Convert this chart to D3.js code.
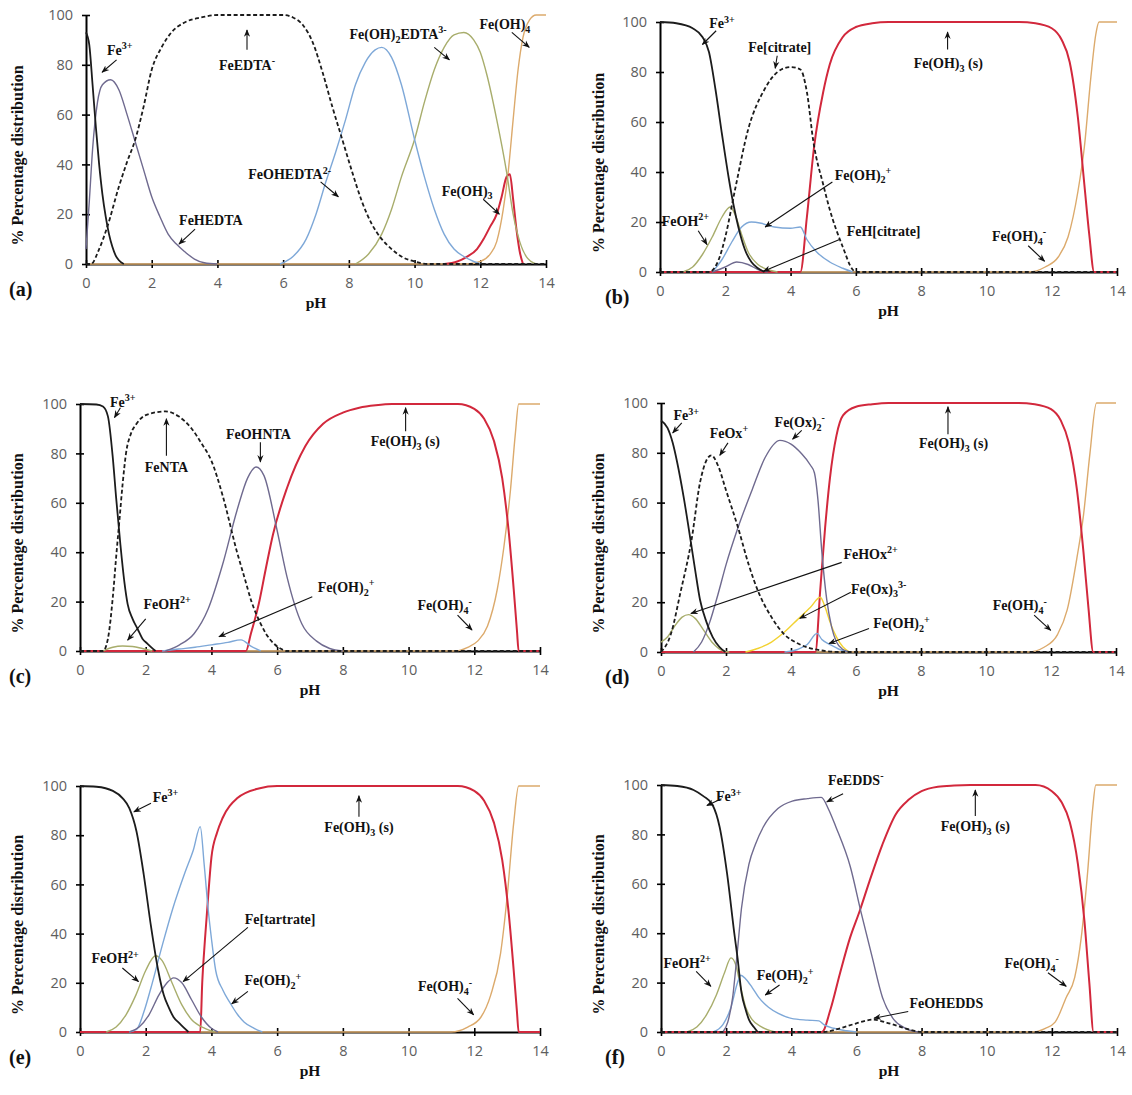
<!DOCTYPE html>
<html>
<head>
<meta charset="utf-8">
<script src="https://cdn.jsdelivr.net/npm/d3@7"></script>
<style>
  body { margin: 0; background: #fff; }
</style>
</head>
<body>
<svg id="chart" width="1132" height="1095"></svg>
<script>
// ---- shared axis values ----
const xTicks = [0, 2, 4, 6, 8, 10, 12, 14];
const yTicks = [0, 20, 40, 60, 80, 100];

// ---- (a) EDTA ----  [pH, %]
const aFe3      = [[0,93],[0.1,88],[0.2,72],[0.3,55],[0.4,40],[0.5,28],[0.6,19],[0.7,12],[0.8,7],[0.9,3.5],[1.0,1.5],[1.15,0]];
const aFeHEDTA  = [[0,6],[0.1,25],[0.2,46],[0.35,65],[0.5,72],[0.75,74],[1.0,70],[1.25,60],[1.5,49],[1.75,38],[2.0,27],[2.25,19],[2.5,12],[2.75,8],[3.0,5],[3.3,2],[3.6,0.5],[4,0]];
const aFeEDTA   = [[0,0],[0.15,0],[0.4,6],[0.65,15],[1.0,31],[1.25,41],[1.5,50],[1.75,63],[2.0,78],[2.3,87],[2.6,93],[3.0,97],[3.5,99],[4,100],[6,100],[6.3,99],[6.6,96],[6.9,89],[7.2,77],[7.5,63],[7.8,50],[8.1,37],[8.4,25],[8.7,16],[9.0,10],[9.3,6],[9.6,3],[10,1],[10.4,0],[14,0]];
const aFeOHEDTA = [[5.9,0],[6.3,3],[6.7,10],[7.0,20],[7.3,33],[7.6,45],[7.9,58],[8.2,72],[8.5,81],[8.8,86],[9.0,87],[9.3,83],[9.6,72],[10.0,50],[10.3,35],[10.6,22],[10.9,12],[11.2,6],[11.5,3],[11.8,1],[12,0]];
const aFeOH2EDTA = [[8.2,0],[8.6,4],[9.0,12],[9.3,22],[9.6,35],[10.0,50],[10.3,65],[10.6,78],[10.9,87],[11.2,92],[11.5,93],[11.8,90],[12.0,85],[12.2,76],[12.5,58],[12.8,37],[13.0,20],[13.2,9],[13.4,3],[13.7,0]];
const aFeOH3    = [[10.9,0],[11.3,1],[11.6,3],[11.9,6],[12.1,10],[12.3,15],[12.5,20],[12.65,27],[12.8,35],[12.9,36],[13.0,26],[13.1,14],[13.2,5],[13.3,0]];
const aFeOH4    = [[0,0],[11.6,0],[12,1],[12.3,4],[12.5,9],[12.7,22],[12.85,37],[13.0,58],[13.15,78],[13.3,91],[13.5,98],[13.7,100],[14,100]];

// ---- (b) citrate ----
const bFe3     = [[0,100],[0.5,99.5],[1,97.5],[1.3,94],[1.5,88],[1.7,73],[1.9,55],[2.1,38],[2.25,27],[2.4,18],[2.6,9],[2.8,4],[3,1.5],[3.2,0]];
const bFeOH    = [[0.7,0],[1.0,2],[1.3,7],[1.6,14],[1.9,22],[2.15,26],[2.3,23],[2.5,15],[2.7,8],[3.0,3],[3.3,1],[3.6,0]];
const bFeCit   = [[0,0],[1.5,0],[1.8,5],[2.0,14],[2.3,33],[2.7,57],[3.2,73],[3.6,80],[4.0,82],[4.3,81],[4.5,72],[4.7,52],[5.0,35],[5.2,25],[5.6,10],[5.9,1],[6.0,0],[14,0]];
const bFeOH2   = [[1.6,0],[1.9,5],[2.2,12],[2.5,18],[2.8,20],[3.1,19.5],[3.5,18],[4.0,17.5],[4.3,18],[4.5,13],[4.8,8],[5.2,4],[5.6,1.5],[5.9,0]];
const bFeHCit  = [[1.6,0],[2.0,2],[2.35,4],[2.7,3],[3.0,1],[3.3,0]];
const bFeOH3s  = [[0,0],[4.3,0],[4.5,22],[4.72,50],[5.0,72],[5.2,83],[5.6,94],[6.0,98],[6.5,99.5],[7,100],[11,100],[11.5,99.5],[12,97.5],[12.3,93],[12.55,84],[12.8,62],[13.0,35],[13.15,15],[13.3,0],[14,0]];
const bFeOH4   = [[0,0],[11.3,0],[11.8,2],[12.2,6],[12.5,14],[12.8,32],[13.0,50],[13.2,78],[13.35,95],[13.45,100],[14,100]];

// ---- (c) NTA ----
const cFe3     = [[0,100],[0.5,99.8],[0.7,99],[0.85,95],[1.0,78],[1.1,62],[1.23,43],[1.35,28],[1.45,19],[1.6,13],[1.75,9],[1.9,5],[2.05,3],[2.3,0]];
const cFeNTA   = [[0,0],[0.7,0],[0.85,5],[1.0,22],[1.1,38],[1.2,53],[1.3,68],[1.4,80],[1.55,88],[1.72,92],[2.0,95.5],[2.6,97],[3.0,95],[3.4,90],[3.7,84],[4.0,77],[4.34,63],[4.78,40],[5.0,30],[5.22,20],[5.5,11],[5.66,7],[5.9,3],[6.1,1],[6.3,0],[14,0]];
const cFeOH    = [[0.7,0],[1.0,1.5],[1.3,2],[1.6,1.8],[1.9,1],[2.2,0]];
const cFeOHNTA = [[2.6,0],[3.03,2.5],[3.47,7],[3.9,17],[4.34,35],[4.78,57],[5.1,70],[5.36,74.5],[5.6,71],[5.98,50],[6.3,30],[6.75,11],[7.2,4],[7.6,1],[8,0]];
const cFeOH2   = [[2.5,0],[3.0,0.8],[3.5,1.5],[4.0,2.5],[4.5,3.5],[4.9,4.5],[5.2,2],[5.5,0]];
const cFeOH3s  = [[0,0],[5.05,0],[5.2,7],[5.44,19],[5.65,33],[5.87,47],[6.3,66],[6.86,83],[7.4,92],[8.0,96.5],[8.5,98.5],[9,99.5],[9.5,100],[11.5,100],[12,98],[12.3,94],[12.6,85],[12.85,70],[13.05,48],[13.2,25],[13.3,8],[13.35,0],[14,0]];
const cFeOH4   = [[0,0],[11.4,0],[11.8,1.5],[12.1,4],[12.4,10],[12.7,25],[12.9,42],[13.1,65],[13.25,88],[13.35,100],[14,100]];

// ---- (d) oxalate ----
const dFe3     = [[0,93],[0.2,90],[0.36,84],[0.5,76],[0.7,62],[0.92,44],[1.05,33],[1.2,21],[1.4,12],[1.59,6],[1.8,2],[1.98,0]];
const dFeOx    = [[0,0],[0.3,7],[0.6,24],[0.94,45],[1.2,68],[1.4,77],[1.55,79],[1.75,75],[2.0,65],[2.37,50],[2.7,35],[3.0,24],[3.4,14],[3.8,7],[4.2,3.5],[4.6,1.5],[5,0.5],[5.5,0],[14,0]];
const dFeHOx   = [[0,4],[0.2,6],[0.4,10],[0.65,14],[0.85,15],[1.05,13.5],[1.3,9],[1.6,3.5],[1.9,0.5],[2.1,0]];
const dFeOx2   = [[1.0,0],[1.25,4],[1.5,12],[1.75,23],[2.0,35],[2.37,50],[2.8,65],[3.2,78],[3.66,85],[4.0,83.5],[4.3,80],[4.6,75],[4.72,72],[4.83,61],[4.95,40],[5.1,21],[5.25,10],[5.4,4],[5.6,1],[5.8,0]];
const dFeOx3   = [[2.6,0],[3.0,1.5],[3.4,4],[3.8,8],[4.2,13],[4.6,18],[4.9,22],[5.05,18],[5.2,12],[5.4,6],[5.6,2],[5.8,0]];
const dFeOH2   = [[3.8,0],[4.2,1],[4.5,3],[4.8,7.5],[4.95,5],[5.2,3],[5.5,1],[5.8,0]];
const dFeOH3s  = [[0,0],[4.75,0],[4.9,25],[5.05,50],[5.2,70],[5.4,87],[5.6,95],[6.0,98.5],[6.5,99.5],[7,100],[11,100],[11.5,99.5],[12,97.5],[12.3,93],[12.55,84],[12.8,65],[13.0,40],[13.15,18],[13.3,0],[14,0]];
const dFeOH4   = [[0,0],[11.3,0],[11.8,2],[12.2,7],[12.5,17],[12.8,38],[13.0,55],[13.2,80],[13.4,100],[14,100]];

// ---- (e) tartrate ----
const eFe3     = [[0,100],[0.5,99.7],[1.0,98],[1.3,95],[1.5,91],[1.72,81.5],[1.94,64],[2.16,43],[2.38,25],[2.55,15],[2.7,10],[2.85,6],[3.03,3.5],[3.3,0]];
const eFeOH    = [[0.8,0],[1.1,2],[1.4,7],[1.7,15],[2.0,25],[2.3,31],[2.5,29],[2.8,20],[3.1,11],[3.4,5],[3.8,1.5],[4.1,0]];
const eFeOH2   = [[1.5,0],[1.72,1],[1.94,8],[2.16,18],[2.5,35],[2.82,50],[3.2,65],[3.45,74],[3.66,83.5],[3.78,68],[3.9,50],[4.0,38],[4.13,25],[4.35,17],[4.56,12],[4.8,7],[5.0,4],[5.3,1.5],[5.55,0]];
const eFeTar   = [[1.5,0],[1.8,2],[2.1,7],[2.4,15],[2.65,20],[2.85,22],[3.1,20],[3.4,13],[3.7,6],[4.0,1.5],[4.2,0]];
const eFeOH3s  = [[0,0],[3.66,0],[3.72,20],[3.8,37],[3.9,55],[4.0,71],[4.17,81],[4.34,87],[4.78,95],[5.44,99],[6,100],[11.5,100],[12,98],[12.3,94],[12.6,85],[12.85,70],[13.05,48],[13.2,25],[13.3,8],[13.35,0],[14,0]];
const eFeOH4   = [[0,0],[11.3,0],[11.8,2],[12.2,6],[12.5,15],[12.8,32],[13.0,55],[13.2,85],[13.35,100],[14,100]];

// ---- (f) EDDS ----
const fFe3      = [[0,100],[0.5,99.6],[1.0,98],[1.3,95.5],[1.58,92],[1.8,83],[2.03,64],[2.25,40],[2.35,30],[2.47,16],[2.6,9],[2.7,5],[2.85,2],[2.97,0]];
const fFeOH     = [[0.8,0],[1.1,2],[1.4,7],[1.7,15],[1.95,24],[2.15,30],[2.3,27],[2.45,18],[2.6,10],[2.8,5],[3.1,2],[3.5,0]];
const fFeOH2    = [[1.6,0],[1.9,3],[2.15,10],[2.35,20],[2.45,23],[2.6,21.5],[2.8,18],[3.0,14],[3.3,10],[3.6,7.5],[4.0,5.5],[4.5,4.8],[4.85,4.5],[5.0,3],[5.3,1.5],[5.7,0.5],[6,0]];
const fFeEDDS   = [[1.9,0],[2.05,4],[2.2,14],[2.34,32],[2.47,50],[2.7,68],[2.9,76],[3.14,83],[3.59,90.5],[4.03,93.5],[4.5,94.5],[4.92,95],[5.15,90],[5.37,83],[5.81,67],[6.15,48],[6.48,30.5],[6.8,14],[7.15,5],[7.5,1.5],[7.9,0]];
const fFeOHEDDS = [[0,0],[5.0,0],[5.5,1.5],[6.0,3.5],[6.5,5],[7.0,3.5],[7.5,1.5],[8,0],[14,0]];
const fFeOH3s   = [[0,0],[4.94,0],[5.2,9],[5.5,24],[5.8,38],[6.1,49],[6.4,61],[6.8,76],[7.2,88],[7.6,94],[8.0,97.5],[8.5,99.3],[9,99.8],[9.5,100],[11.5,100],[12,97.5],[12.3,93],[12.55,85],[12.8,68],[13.0,45],[13.15,20],[13.28,0],[14,0]];
const fFeOH4    = [[0,0],[11.4,0],[11.8,1.5],[12.1,4],[12.44,14],[12.7,22],[12.9,38],[13.1,65],[13.25,90],[13.35,100],[14,100]];

// ---- styling ----
const col = {
  black: '#1c1c1c', purple: '#6f6a8f', blue: '#7ea8d8', green: '#a8ad6c',
  red: '#d2283c', tan: '#dcaa6c', yellow: '#f2d232'
};
const serif = '"Liberation Serif", "Times New Roman", serif';
const sans = '"Open Sans", "Liberation Sans", sans-serif';

const panels = [
  { id: 'a', x0: 86, x1: 546, top: 15, bot: 264,
    series: [
      [aFeOH4, 'tan'], [aFeOH3, 'red'], [aFeOH2EDTA, 'green'], [aFeOHEDTA, 'blue'],
      [aFeHEDTA, 'purple'], [aFeEDTA, 'dash'], [aFe3, 'black']],
    notes: [
      ['Fe^{3+}', 1.03, 86, 0.93, 82, 0.49, 77],
      ['FeEDTA^{-}', 4.9, 80, 4.9, 86, 4.9, 94],
      ['Fe(OH)_{2}EDTA^{3-}', 9.5, 92.5, 10.6, 87, 11.06, 82],
      ['Fe(OH)_{4}', 12.75, 96.5, 12.96, 93, 13.49, 87],
      ['FeOHEDTA^{2-}', 6.2, 36, 7.14, 33, 7.68, 27],
      ['Fe(OH)_{3}', 11.6, 29.5, 12.09, 26, 12.58, 20],
      ['FeHEDTA', 3.8, 17.5, 3.32, 14, 2.83, 8]
    ] },
  { id: 'b', x0: 660, x1: 1117, top: 22, bot: 272,
    series: [
      [bFeOH4, 'tan'], [bFeOH3s, 'red'], [bFeOH, 'green'], [bFeOH2, 'blue'],
      [bFeHCit, 'purple'], [bFeCit, 'dash'], [bFe3, 'black']],
    notes: [
      ['Fe^{3+}', 1.9, 99.5, 1.72, 96.5, 1.3, 91],
      ['Fe[citrate]', 3.67, 90, 3.59, 86.5, 3.53, 81.5],
      ['Fe(OH)_{3} (s)', 8.83, 83.5, 8.81, 89, 8.81, 96],
      ['Fe(OH)_{2}^{+}', 6.22, 39, 5.28, 36, 3.22, 18],
      ['FeOH^{2+}', 0.78, 20.5, 1.17, 16.5, 1.44, 11],
      ['FeH[citrate]', 6.85, 16.5, 5.5, 13, 3.17, 0.3],
      ['Fe(OH)_{4}^{-}', 11, 14.5, 11.28, 10.5, 11.78, 4.3]
    ] },
  { id: 'c', x0: 80, x1: 540, top: 404, bot: 651,
    series: [
      [cFeOH4, 'tan'], [cFeOH3s, 'red'], [cFeOH, 'green'], [cFeOH2, 'blue'],
      [cFeOHNTA, 'purple'], [cFeNTA, 'dash'], [cFe3, 'black']],
    notes: [
      ['Fe^{3+}', 1.3, 101, 1.23, 98.5, 1.05, 94.5],
      ['FeNTA', 2.63, 74.5, 2.63, 79, 2.63, 94],
      ['FeOHNTA', 5.43, 88, 5.49, 84.5, 5.49, 76.5],
      ['Fe(OH)_{3} (s)', 9.9, 85, 9.91, 89, 9.91, 98.5],
      ['FeOH^{2+}', 2.65, 19, 2.0, 13, 1.45, 4.4],
      ['Fe(OH)_{2}^{+}', 8.1, 26, 7.07, 22, 4.23, 5.8],
      ['Fe(OH)_{4}^{-}', 11.1, 18.5, 11.49, 14.5, 11.93, 8.5]
    ] },
  { id: 'd', x0: 661, x1: 1116, top: 403, bot: 652,
    series: [
      [dFeOH4, 'tan'], [dFeOH3s, 'red'], [dFeHOx, 'green'], [dFeOx3, 'yellow'], [dFeOH2, 'blue'],
      [dFeOx2, 'purple'], [dFeOx, 'dash'], [dFe3, 'black']],
    notes: [
      ['Fe^{3+}', 0.78, 95, 0.64, 92, 0.36, 88],
      ['FeOx^{+}', 2.09, 88, 2.06, 84, 1.81, 79],
      ['Fe(Ox)_{2}^{-}', 4.27, 92.5, 4.33, 89, 4.05, 85.5],
      ['Fe(OH)_{3} (s)', 9.0, 84, 8.83, 87.5, 8.83, 98.5],
      ['FeHOx^{2+}', 6.45, 39.5, 5.56, 36, 0.92, 15.5],
      ['Fe(Ox)_{3}^{3-}', 6.7, 25.5, 5.84, 24, 4.27, 13.5],
      ['Fe(OH)_{2}^{+}', 7.4, 11.5, 6.4, 9.4, 5.17, 3.4],
      ['Fe(OH)_{4}^{-}', 11.04, 18.8, 11.48, 14.8, 11.99, 8.7]
    ] },
  { id: 'e', x0: 80, x1: 540, top: 786, bot: 1032,
    series: [
      [eFeOH4, 'tan'], [eFeOH3s, 'red'], [eFeOH, 'green'], [eFeOH2, 'blue'],
      [eFeTar, 'purple'], [eFe3, 'black']],
    notes: [
      ['Fe^{3+}', 2.6, 95.5, 2.16, 93, 1.64, 89.5],
      ['Fe(OH)_{3} (s)', 8.49, 83.5, 8.49, 87.5, 8.49, 96],
      ['Fe[tartrate]', 6.09, 46, 5.11, 42.5, 3.14, 20.5],
      ['FeOH^{2+}', 1.07, 30, 1.29, 26, 1.78, 20.5],
      ['Fe(OH)_{2}^{+}', 5.87, 21, 5.11, 16.5, 4.62, 11.5],
      ['Fe(OH)_{4}^{-}', 11.11, 18.5, 11.49, 13.7, 11.98, 7]
    ] },
  { id: 'f', x0: 661, x1: 1117, top: 785, bot: 1032,
    series: [
      [fFeOH4, 'tan'], [fFeOH3s, 'red'], [fFeOH, 'green'], [fFeOH2, 'blue'],
      [fFeEDDS, 'purple'], [fFeOHEDDS, 'dash'], [fFe3, 'black']],
    notes: [
      ['Fe^{3+}', 2.08, 95.5, 1.86, 94.4, 1.41, 91.7],
      ['FeEDDS^{-}', 5.98, 102, 5.59, 96.5, 5.09, 93.2],
      ['Fe(OH)_{3} (s)', 9.65, 83.5, 9.65, 87.5, 9.65, 98],
      ['FeOH^{2+}', 0.8, 28, 1.08, 24.5, 1.53, 18.5],
      ['Fe(OH)_{2}^{+}', 3.81, 23, 3.64, 19, 3.2, 15],
      ['FeOHEDDS', 8.76, 11.7, 7.59, 8.3, 6.54, 5.6],
      ['Fe(OH)_{4}^{-}', 11.38, 28, 11.88, 24, 12.44, 18.5]
    ] }
];

const svg = d3.select('#chart');

svg.append('defs').append('marker')
  .attr('id', 'arrow').attr('viewBox', '0 0 10 10')
  .attr('refX', 9).attr('refY', 5)
  .attr('markerWidth', 7).attr('markerHeight', 7)
  .attr('orient', 'auto-start-reverse')
  .append('path').attr('d', 'M0,1 L10,5 L0,9 L3,5 Z').attr('fill', '#111');

// text with ^{sup} and _{sub} parts
function richText(sel, str) {
  const parts = str.split(/(\^\{[^}]*\}|_\{[^}]*\})/).filter(s => s.length);
  let shift = 0;
  parts.forEach(s => {
    let target = 0, txt = s, small = false;
    if (s.startsWith('^{')) { target = -0.4; txt = s.slice(2, -1); small = true; }
    else if (s.startsWith('_{')) { target = 0.28; txt = s.slice(2, -1); small = true; }
    const t = sel.append('tspan').text(txt).attr('dy', (target - shift) / (small ? 0.72 : 1) + 'em');
    if (small) t.attr('font-size', '72%');
    shift = target;
  });
}

const line = d3.line().curve(d3.curveMonotoneX);

panels.forEach(p => {
  const x = d3.scaleLinear().domain([0, 14]).range([p.x0, p.x1]);
  const y = d3.scaleLinear().domain([0, 100]).range([p.bot, p.top]);
  const g = svg.append('g').attr('class', 'panel-' + p.id);
  const leftCol = p.x0 < 300;

  // x axis
  g.append('g').attr('transform', `translate(0,${p.bot})`)
    .call(d3.axisBottom(x).tickValues(xTicks).tickSize(4).tickSizeOuter(0).tickPadding(10))
    .call(ax => {
      ax.select('.domain').attr('stroke', '#000').attr('stroke-width', 1.8);
      ax.selectAll('.tick line').attr('y1', -4).attr('y2', 4).attr('stroke', '#000').attr('stroke-width', 1.6);
      ax.selectAll('.tick text').attr('font-family', sans).attr('font-size', 14.5).attr('fill', '#5e5e5e');
    });

  // y axis
  g.append('g').attr('transform', `translate(${p.x0},0)`)
    .call(d3.axisLeft(y).tickValues(yTicks).tickSize(4).tickSizeOuter(0).tickPadding(9))
    .call(ax => {
      ax.select('.domain').attr('stroke', '#000').attr('stroke-width', 2);
      ax.selectAll('.tick line').attr('x1', -4).attr('x2', 4).attr('stroke', '#000').attr('stroke-width', 1.6);
      ax.selectAll('.tick text').attr('font-family', sans).attr('font-size', 14.5).attr('fill', '#5e5e5e');
    });

  // axis titles and panel letter
  g.append('text')
    .attr('transform', `translate(${leftCol ? 19 : 600},${(p.top + p.bot) / 2 + 16}) rotate(-90)`)
    .attr('text-anchor', 'middle').attr('dominant-baseline', 'middle')
    .attr('font-family', serif).attr('font-weight', 'bold').attr('font-size', 16)
    .attr('fill', '#111').text('% Percentage distribution');
  g.append('text')
    .attr('x', (p.x0 + p.x1) / 2).attr('y', p.bot + 40)
    .attr('text-anchor', 'middle').attr('dominant-baseline', 'middle')
    .attr('font-family', serif).attr('font-weight', 'bold').attr('font-size', 15.5)
    .attr('fill', '#111').text('pH');
  g.append('text')
    .attr('x', leftCol ? 9 : 605).attr('y', p.bot + 27)
    .attr('dominant-baseline', 'middle')
    .attr('font-family', serif).attr('font-weight', 'bold').attr('font-size', 20)
    .attr('fill', '#111').text('(' + p.id + ')');

  // species curves
  p.series.forEach(([data, kind]) => {
    const dash = kind === 'dash';
    const c = dash ? col.black : col[kind];
    line.x(d => x(d[0])).y(d => y(d[1]));
    g.append('path').datum(data)
      .attr('d', line)
      .attr('fill', 'none')
      .attr('stroke', c)
      .attr('stroke-width', kind === 'red' ? 2 : (kind === 'black' || dash) ? 1.8 : 1.4)
      .attr('stroke-dasharray', dash ? '4,2.5' : null);
  });

  // labels and arrows
  p.notes.forEach(([label, tx, ty, ax1, ay1, ax2, ay2]) => {
    g.append('line')
      .attr('x1', x(ax1)).attr('y1', y(ay1)).attr('x2', x(ax2)).attr('y2', y(ay2))
      .attr('stroke', '#111').attr('stroke-width', 1.1)
      .attr('marker-end', 'url(#arrow)');
    const t = g.append('text')
      .attr('x', x(tx)).attr('y', y(ty) + 5)
      .attr('text-anchor', 'middle')
      .attr('font-family', serif).attr('font-weight', 'bold').attr('font-size', 14)
      .attr('fill', '#111');
    richText(t, label);
  });
});
</script>
</body>
</html>
